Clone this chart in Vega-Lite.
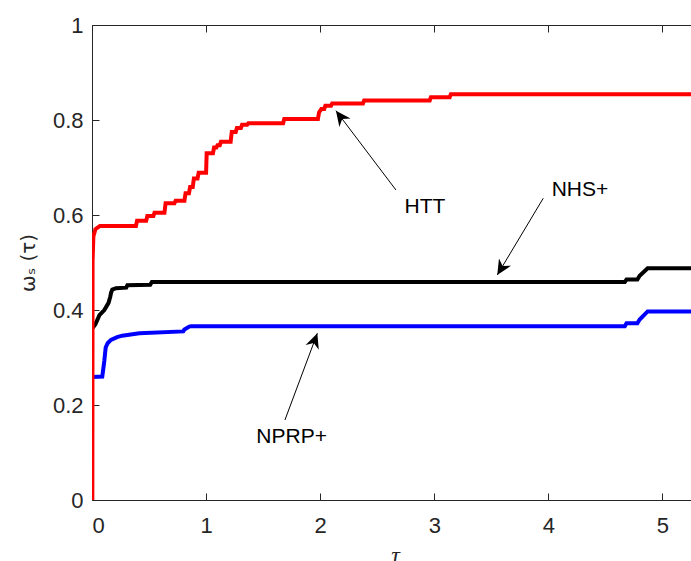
{
  "$schema": "https://vega.github.io/schema/vega-lite/v6.json",
  "width": 599,
  "height": 475,
  "autosize": {"type": "none"},
  "padding": {"left": 92, "top": 25, "right": 0, "bottom": 61},
  "background": "white",
  "config": {
    "view": {"stroke": null},
    "axis": {
      "domainColor": "#262626",
      "tickColor": "#262626",
      "labelColor": "#262626",
      "titleColor": "#262626",
      "labelFont": "Liberation Sans",
      "labelFontSize": 22,
      "labelFontWeight": "normal",
      "tickSize": -7,
      "grid": false,
      "domainWidth": 1,
      "tickWidth": 1
    }
  },
  "datasets": {
    "curves": [
      {"s": "NPRP+", "t": 0.005, "v": 0.259},
      {"s": "NPRP+", "t": 0.09, "v": 0.26},
      {"s": "NPRP+", "t": 0.1, "v": 0.278},
      {"s": "NPRP+", "t": 0.108, "v": 0.293},
      {"s": "NPRP+", "t": 0.12, "v": 0.321},
      {"s": "NPRP+", "t": 0.137, "v": 0.33},
      {"s": "NPRP+", "t": 0.166, "v": 0.337},
      {"s": "NPRP+", "t": 0.22, "v": 0.343},
      {"s": "NPRP+", "t": 0.265, "v": 0.346},
      {"s": "NPRP+", "t": 0.415, "v": 0.351},
      {"s": "NPRP+", "t": 0.8, "v": 0.355},
      {"s": "NPRP+", "t": 0.81, "v": 0.359},
      {"s": "NPRP+", "t": 0.853, "v": 0.365},
      {"s": "NPRP+", "t": 0.87, "v": 0.366},
      {"s": "NPRP+", "t": 4.67, "v": 0.366},
      {"s": "NPRP+", "t": 4.685, "v": 0.372},
      {"s": "NPRP+", "t": 4.78, "v": 0.372},
      {"s": "NPRP+", "t": 4.8, "v": 0.38},
      {"s": "NPRP+", "t": 4.87, "v": 0.397},
      {"s": "NPRP+", "t": 5.25, "v": 0.397},
      {"s": "NHS+", "t": 0.005, "v": 0.362},
      {"s": "NHS+", "t": 0.03, "v": 0.37},
      {"s": "NHS+", "t": 0.065, "v": 0.389},
      {"s": "NHS+", "t": 0.108, "v": 0.4},
      {"s": "NHS+", "t": 0.145, "v": 0.415},
      {"s": "NHS+", "t": 0.16, "v": 0.428},
      {"s": "NHS+", "t": 0.168, "v": 0.437},
      {"s": "NHS+", "t": 0.178, "v": 0.443},
      {"s": "NHS+", "t": 0.21, "v": 0.446},
      {"s": "NHS+", "t": 0.3, "v": 0.447},
      {"s": "NHS+", "t": 0.31, "v": 0.452},
      {"s": "NHS+", "t": 0.51, "v": 0.453},
      {"s": "NHS+", "t": 0.525, "v": 0.459},
      {"s": "NHS+", "t": 4.67, "v": 0.459},
      {"s": "NHS+", "t": 4.685, "v": 0.464},
      {"s": "NHS+", "t": 4.78, "v": 0.464},
      {"s": "NHS+", "t": 4.8, "v": 0.472},
      {"s": "NHS+", "t": 4.87, "v": 0.488},
      {"s": "NHS+", "t": 5.25, "v": 0.488},
      {"s": "HTT", "t": 0.003, "v": 0.0},
      {"s": "HTT", "t": 0.005, "v": 0.502},
      {"s": "HTT", "t": 0.012, "v": 0.555},
      {"s": "HTT", "t": 0.03, "v": 0.57},
      {"s": "HTT", "t": 0.07, "v": 0.577},
      {"s": "HTT", "t": 0.385, "v": 0.577},
      {"s": "HTT", "t": 0.395, "v": 0.588},
      {"s": "HTT", "t": 0.475, "v": 0.588},
      {"s": "HTT", "t": 0.485, "v": 0.598},
      {"s": "HTT", "t": 0.538, "v": 0.598},
      {"s": "HTT", "t": 0.548, "v": 0.605},
      {"s": "HTT", "t": 0.635, "v": 0.605},
      {"s": "HTT", "t": 0.645, "v": 0.625},
      {"s": "HTT", "t": 0.723, "v": 0.625},
      {"s": "HTT", "t": 0.733, "v": 0.63},
      {"s": "HTT", "t": 0.81, "v": 0.63},
      {"s": "HTT", "t": 0.82, "v": 0.646},
      {"s": "HTT", "t": 0.85, "v": 0.646},
      {"s": "HTT", "t": 0.86, "v": 0.659},
      {"s": "HTT", "t": 0.883, "v": 0.659},
      {"s": "HTT", "t": 0.893, "v": 0.677},
      {"s": "HTT", "t": 0.925, "v": 0.677},
      {"s": "HTT", "t": 0.935, "v": 0.689},
      {"s": "HTT", "t": 1.0, "v": 0.689},
      {"s": "HTT", "t": 1.005, "v": 0.73},
      {"s": "HTT", "t": 1.06, "v": 0.73},
      {"s": "HTT", "t": 1.07, "v": 0.742},
      {"s": "HTT", "t": 1.09, "v": 0.742},
      {"s": "HTT", "t": 1.1, "v": 0.747},
      {"s": "HTT", "t": 1.12, "v": 0.747},
      {"s": "HTT", "t": 1.13, "v": 0.754},
      {"s": "HTT", "t": 1.215, "v": 0.754},
      {"s": "HTT", "t": 1.225, "v": 0.775},
      {"s": "HTT", "t": 1.26, "v": 0.775},
      {"s": "HTT", "t": 1.27, "v": 0.783},
      {"s": "HTT", "t": 1.305, "v": 0.783},
      {"s": "HTT", "t": 1.315, "v": 0.79},
      {"s": "HTT", "t": 1.36, "v": 0.79},
      {"s": "HTT", "t": 1.37, "v": 0.793},
      {"s": "HTT", "t": 1.675, "v": 0.793},
      {"s": "HTT", "t": 1.685, "v": 0.802},
      {"s": "HTT", "t": 1.98, "v": 0.802},
      {"s": "HTT", "t": 1.99, "v": 0.816},
      {"s": "HTT", "t": 2.01, "v": 0.823},
      {"s": "HTT", "t": 2.035, "v": 0.823},
      {"s": "HTT", "t": 2.045, "v": 0.83},
      {"s": "HTT", "t": 2.095, "v": 0.83},
      {"s": "HTT", "t": 2.105, "v": 0.835},
      {"s": "HTT", "t": 2.375, "v": 0.835},
      {"s": "HTT", "t": 2.385, "v": 0.841},
      {"s": "HTT", "t": 2.96, "v": 0.841},
      {"s": "HTT", "t": 2.97, "v": 0.848},
      {"s": "HTT", "t": 3.135, "v": 0.848},
      {"s": "HTT", "t": 3.145, "v": 0.854},
      {"s": "HTT", "t": 5.25, "v": 0.854}
    ],
    "notes": [
      {"label": "HTT", "tailT": 2.664, "tailV": 0.6526, "tipT": 2.138, "tipV": 0.8196, "textT": 2.918, "textV": 0.6036},
      {"label": "NHS+", "tailT": 3.955, "tailV": 0.6352, "tipT": 3.552, "tipV": 0.4737, "textT": 4.277, "textV": 0.6406},
      {"label": "NPRP+", "tailT": 1.691, "tailV": 0.1684, "tipT": 1.975, "tipV": 0.351, "textT": 1.75, "textV": 0.1194}
    ]
  },
  "resolve": {"axis": {"x": "independent", "y": "independent"}},
  "layer": [
    {
      "data": {"name": "curves"},
      "transform": [{"filter": "datum.s === 'NPRP+'"}],
      "mark": {"type": "line", "color": "#0000ff", "strokeWidth": 4, "clip": true},
      "encoding": {
        "x": {"field": "t", "type": "quantitative", "scale": {"domain": [0, 5.25], "nice": false, "zero": false},
          "axis": {"orient": "bottom", "values": [0, 1, 2, 3, 4, 5], "format": "d", "labelPadding": 22,
            "title": "τ", "titleFont": "Liberation Serif", "titleFontStyle": "italic", "titleFontWeight": "normal", "titleFontSize": 24,
            "titleX": 303, "titleY": 62, "titleBaseline": "alphabetic", "titleAlign": "center"}},
        "y": {"field": "v", "type": "quantitative", "scale": {"domain": [0, 1], "nice": false},
          "axis": {"orient": "left", "values": [0, 0.2, 0.4, 0.6, 0.8, 1], "format": "~g", "labelPadding": 16,
            "title": "ωₛ (τ)", "titleFont": "DejaVu Sans", "titleFontWeight": "normal", "titleFontSize": 20,
            "titleX": -64, "titleY": 237.5, "titleAngle": 270, "titleAlign": "center", "titleBaseline": "middle"}}
      }
    },
    {
      "data": {"name": "curves"},
      "transform": [{"filter": "datum.s === 'NHS+'"}],
      "mark": {"type": "line", "color": "#000000", "strokeWidth": 4, "clip": true},
      "encoding": {
        "x": {"field": "t", "type": "quantitative", "axis": {"orient": "top", "values": [0, 1, 2, 3, 4, 5], "labels": false, "title": null}},
        "y": {"field": "v", "type": "quantitative", "axis": null}
      }
    },
    {
      "data": {"name": "curves"},
      "transform": [{"filter": "datum.s === 'HTT'"}],
      "mark": {"type": "line", "color": "#ff0000", "strokeWidth": 4, "clip": true},
      "encoding": {
        "x": {"field": "t", "type": "quantitative", "axis": null},
        "y": {"field": "v", "type": "quantitative", "axis": null}
      }
    },
    {
      "data": {"name": "notes"},
      "mark": {"type": "rule", "color": "#000000", "strokeWidth": 1},
      "encoding": {
        "x": {"field": "tailT", "type": "quantitative", "axis": null},
        "y": {"field": "tailV", "type": "quantitative", "axis": null},
        "x2": {"field": "tipT"},
        "y2": {"field": "tipV"}
      }
    },
    {
      "data": {"name": "notes"},
      "transform": [{"filter": "datum.label === 'HTT'"}],
      "mark": {"type": "point", "shape": "M0,0L1.75,3.75L0,2.6L-1.75,3.75Z", "size": 64, "filled": true, "color": "#000000", "opacity": 1, "strokeWidth": 0, "angle": -37},
      "encoding": {
        "x": {"field": "tipT", "type": "quantitative", "axis": null},
        "y": {"field": "tipV", "type": "quantitative", "axis": null}
      }
    },
    {
      "data": {"name": "notes"},
      "transform": [{"filter": "datum.label === 'NHS+'"}],
      "mark": {"type": "point", "shape": "M0,0L1.75,3.75L0,2.6L-1.75,3.75Z", "size": 64, "filled": true, "color": "#000000", "opacity": 1, "strokeWidth": 0, "angle": 211},
      "encoding": {
        "x": {"field": "tipT", "type": "quantitative", "axis": null},
        "y": {"field": "tipV", "type": "quantitative", "axis": null}
      }
    },
    {
      "data": {"name": "notes"},
      "transform": [{"filter": "datum.label === 'NPRP+'"}],
      "mark": {"type": "point", "shape": "M0,0L1.75,3.75L0,2.6L-1.75,3.75Z", "size": 64, "filled": true, "color": "#000000", "opacity": 1, "strokeWidth": 0, "angle": 20},
      "encoding": {
        "x": {"field": "tipT", "type": "quantitative", "axis": null},
        "y": {"field": "tipV", "type": "quantitative", "axis": null}
      }
    },
    {
      "data": {"name": "notes"},
      "mark": {"type": "text", "font": "Liberation Sans", "fontSize": 21, "color": "#000000", "align": "center", "baseline": "alphabetic"},
      "encoding": {
        "x": {"field": "textT", "type": "quantitative", "axis": null},
        "y": {"field": "textV", "type": "quantitative", "axis": null},
        "text": {"field": "label"}
      }
    }
  ]
}
